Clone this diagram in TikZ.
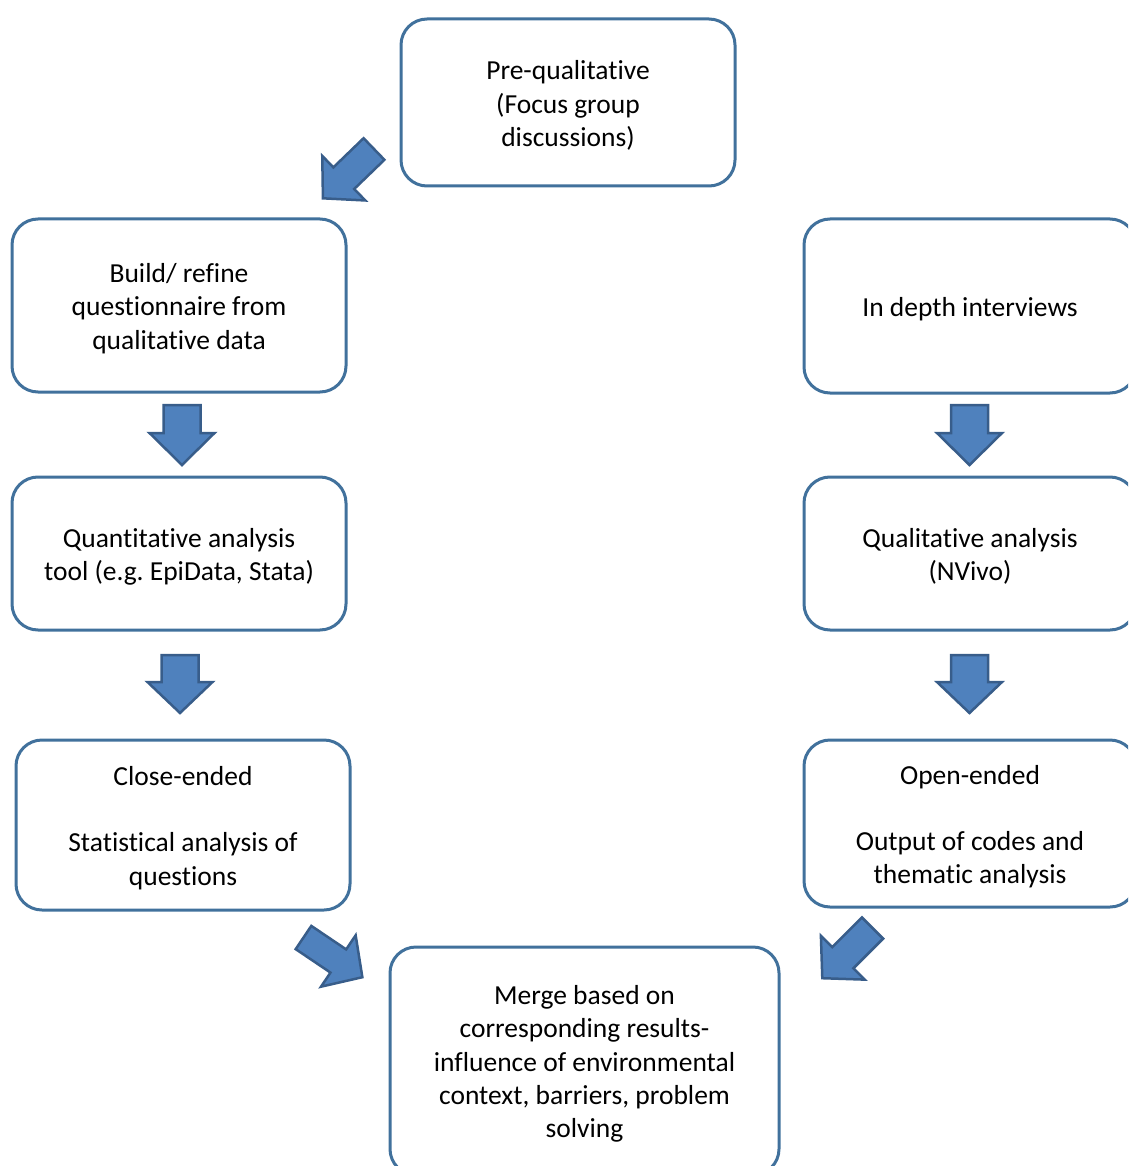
\documentclass[tikz,border=0pt]{standalone}
\usepackage{fontspec}
\setmainfont{Carlito}[Ligatures=NoCommon]
\frenchspacing
\definecolor{boxline}{HTML}{41719C}
\definecolor{arrfill}{HTML}{4F81BD}
\definecolor{arrline}{HTML}{385D8A}
\newcommand\barrow[6]{%
  \begin{scope}[shift={(#1)},rotate=#2]
    \draw[arrowshape] (0,-#4/2) -- (#3-#6,-#4/2) -- (#3-#6,-#5/2) -- (#3,0) -- (#3-#6,#5/2) -- (#3-#6,#4/2) -- (0,#4/2) -- cycle;
  \end{scope}}
\begin{document}
\begin{tikzpicture}[x=1pt,y=-1pt,
  box/.style={draw=boxline, line width=3pt, rounded corners=26pt, fill=white},
  txt/.style={align=center, font=\fontsize{27.5}{33.3}\selectfont, inner sep=0pt},
  arrowshape/.style={fill=arrfill, draw=arrline, line width=2.5pt, line join=miter}]
\useasboundingbox (0,0) rectangle (1128,1166);
\clip (0,0) rectangle (1128,1166);
\node[box, minimum width=334pt, minimum height=167pt] (pre) at (568,102.5) {};
\node[txt] (pret) at ([yshift=-3pt]pre.center) {Pre-qualitative\\(Focus group\\discussions)};
\node[box, minimum width=334pt, minimum height=173pt] (build) at (179,305.5) {};
\node[txt] (buildt) at ([yshift=-3pt]build.center) {Build/ refine\\questionnaire from\\qualitative data};
\node[box, minimum width=334pt, minimum height=153pt] (quant) at (179,553.5) {};
\node[txt] (quantt) at ([yshift=-3pt]quant.center) {Quantitative analysis\\tool (e.g. EpiData, Stata)};
\node[box, minimum width=334pt, minimum height=170pt] (close) at (183,825) {};
\node[txt] (closet) at ([yshift=-3pt]close.center) {Close-ended\\[33pt]Statistical analysis of\\questions};
\node[box, minimum width=332pt, minimum height=174pt] (indepth) at (970,306) {};
\node[txt] (indeptht) at ([yshift=-3pt]indepth.center) {In depth interviews};
\node[box, minimum width=332pt, minimum height=153pt] (qual) at (970,553.5) {};
\node[txt] (qualt) at ([yshift=-3pt]qual.center) {Qualitative analysis\\(NVivo)};
\node[box, minimum width=332pt, minimum height=167pt] (open) at (970,823.5) {};
\node[txt] (opent) at ([yshift=-3pt]open.center) {Open-ended\\[33pt]Output of codes and\\thematic analysis};
\node[box, minimum width=389pt, minimum height=228pt] (merge) at (584.5,1061) {};
\node[txt] (merget) at ([yshift=-3pt]merge.center) {Merge based on\\corresponding results-\\influence of environmental\\context, barriers, problem\\solving};
% block arrows
\barrow{374,149}{-136}{71}{30}{62}{29}
\barrow{182,405}{-90}{60}{37}{65}{32}
\barrow{180,655}{-90}{58}{37}{65}{31}
\barrow{969.5,405}{-90}{60}{37}{65}{32}
\barrow{969.5,655}{-90}{58}{37}{65}{31}
\barrow{303.5,937.5}{-34}{71}{28}{62}{29}
\barrow{872.5,928}{-135}{71}{30}{62}{29}
\end{tikzpicture}
\end{document}
